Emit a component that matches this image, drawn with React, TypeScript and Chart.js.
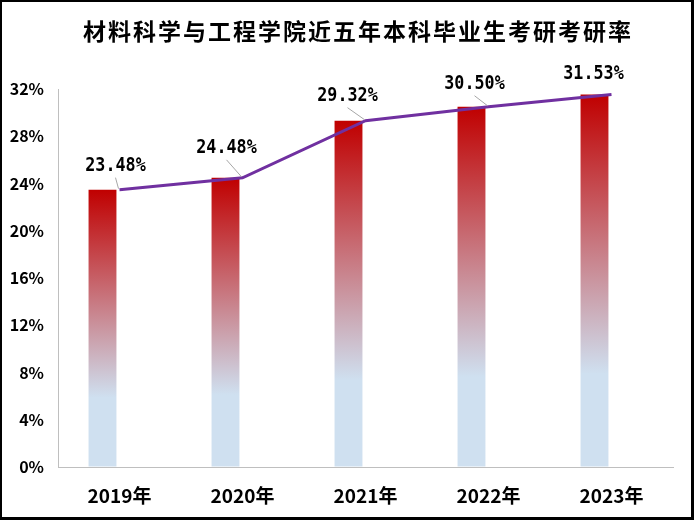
import React, { useEffect, useRef } from 'react';
import { Chart, registerables } from 'chart.js';

Chart.register(...registerables);

const titleText = '材料科学与工程学院近五年本科毕业生考研考研率';
const years = ['2019年', '2020年', '2021年', '2022年', '2023年'];
const rates = [23.48, 24.48, 29.32, 30.5, 31.53];
const yMax = 32;
const yStep = 4;

// where each value label sits relative to its point, and whether it gets a leader line
const labelOffsets = [[-4, -25], [-16, -31], [-18, -26], [-14, -24], [-18, -21]];
const showLeader = [true, true, true, true, false];

const RED = '#C00000';
const BLUE = '#CFE0F0';
const PURPLE = '#7030A0';
const AXIS = '#BFBFBF';
const tickFont = "'Liberation Sans Narrow', 'Noto Sans CJK SC', sans-serif";

const barFill = (c: any) => {
  const chart = c.chart;
  const y = chart.scales?.y;
  const v = c.dataset?.data?.[c.dataIndex];
  if (!y || v == null || !isFinite(y.top)) return RED;
  const top = y.getPixelForValue(v);
  const bottom = y.getPixelForValue(0);
  if (!isFinite(top) || !isFinite(bottom) || bottom - top < 1) return RED;
  const g = chart.ctx.createLinearGradient(0, top, 0, bottom);
  g.addColorStop(0, RED);
  g.addColorStop(0.75, BLUE);
  g.addColorStop(1, BLUE);
  return g;
};

const decorPlugin = {
  id: 'decor',
  afterDatasetsDraw(chart: any) {
    const ctx = chart.ctx;
    // title
    ctx.save();
    ctx.font = "bold 23px 'Noto Sans CJK SC', sans-serif";
    (ctx as any).letterSpacing = '2px';
    ctx.fillStyle = '#000';
    ctx.textAlign = 'center';
    ctx.textBaseline = 'middle';
    ctx.fillText(titleText, 356, 29);
    ctx.restore();

    // value labels with leader lines
    const meta = chart.getDatasetMeta(0);
    meta.data.forEach((pt: any, i: number) => {
      const [dx, dy] = labelOffsets[i];
      const lx = pt.x + dx;
      const ly = pt.y + dy;
      ctx.save();
      if (showLeader[i]) {
        ctx.strokeStyle = '#A6A6A6';
        ctx.lineWidth = 1;
        ctx.beginPath();
        ctx.moveTo(lx, ly + 13);
        ctx.lineTo(pt.x - 1, pt.y - 1);
        ctx.stroke();
      }
      ctx.translate(lx, ly + 1);
      ctx.scale(0.88, 1);
      ctx.font = "bold 19px 'DejaVu Sans Mono', monospace";
      ctx.fillStyle = '#000';
      ctx.textAlign = 'center';
      ctx.textBaseline = 'middle';
      ctx.fillText(rates[i].toFixed(2) + '%', 0, 0);
      ctx.restore();
    });
  },
};

export default function App() {
  const canvasRef = useRef<HTMLCanvasElement>(null);
  const chartRef = useRef<Chart | null>(null);

  useEffect(() => {
    if (!canvasRef.current) return;
    if (chartRef.current) chartRef.current.destroy();

    const ctx = canvasRef.current.getContext('2d');
    if (!ctx) return;

    chartRef.current = new Chart(ctx, {
      type: 'bar',
      data: {
        labels: years,
        datasets: [
          {
            type: 'line',
            label: '考研率',
            data: rates,
            borderColor: PURPLE,
            borderWidth: 3,
            pointRadius: 0,
            tension: 0,
            order: 0,
          } as any,
          {
            label: '考研率柱',
            data: rates,
            backgroundColor: barFill,
            borderWidth: 0,
            categoryPercentage: 0.553,
            barPercentage: 0.82,
            order: 1,
          },
          {
            label: '',
            data: years.map(() => null),
            backgroundColor: 'transparent',
            categoryPercentage: 0.553,
            barPercentage: 0.82,
            order: 2,
          },
        ],
      },
      options: {
        responsive: true,
        maintainAspectRatio: false,
        animation: false,
        layout: { padding: { top: 87, right: 18, left: 0, bottom: 0 } },
        plugins: {
          legend: { display: false },
          title: { display: false },
          tooltip: { enabled: false },
        },
        scales: {
          x: {
            grid: { display: true, drawOnChartArea: false, drawTicks: false },
            border: { display: true, color: AXIS, width: 1 },
            ticks: {
              color: '#000',
              padding: 17,
              font: { family: tickFont, size: 19, weight: 'bold' },
            },
            afterFit: (s: any) => {
              s.height = 50;
            },
          },
          y: {
            min: 0,
            max: yMax,
            grid: { display: true, drawOnChartArea: false, drawTicks: false },
            border: { display: true, color: AXIS, width: 1 },
            ticks: {
              stepSize: yStep,
              color: '#000',
              padding: 14,
              font: { family: tickFont, size: 16, weight: 'bold' },
              callback: (v: any) => v + '%',
            },
            afterFit: (s: any) => {
              s.width = 56;
            },
          },
        },
      },
      plugins: [decorPlugin],
    });

    return () => {
      if (chartRef.current) {
        chartRef.current.destroy();
        chartRef.current = null;
      }
    };
  }, []);

  return (
    <>
      <style>{'body{margin:0;}'}</style>
      <div
        style={{
          width: 694,
          height: 520,
          boxSizing: 'border-box',
          borderStyle: 'solid',
          borderColor: '#000',
          borderWidth: '2px 3px 3px 2px',
          background: '#fff',
        }}
      >
        <div style={{ position: 'relative', width: 689, height: 515 }}>
          <canvas ref={canvasRef}></canvas>
        </div>
      </div>
    </>
  );
}
